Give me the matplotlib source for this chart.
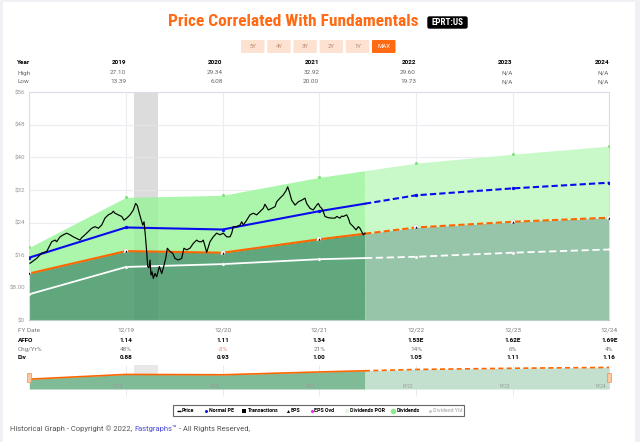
import numpy as np
import matplotlib.pyplot as plt
from matplotlib.patches import Rectangle, FancyBboxPatch
from matplotlib import font_manager

# ---- data ----
fy_x = [0, 1, 2, 3, 4, 5, 6]              # fiscal year ends 12/18 .. 12/24
fy_labels = ['12/19', '12/20', '12/21', '12/22', '12/23', '12/24']
years = ['2019', '2020', '2021', '2022', '2023', '2024']
high = ['27.10', '29.34', '32.92', '29.60', 'N/A', 'N/A']
low = ['13.39', '6.08', '20.00', '19.73', 'N/A', 'N/A']
affo = ['1.14', '1.11', '1.34', '1.53E', '1.62E', '1.69E']
chg = ['48%', '-3%', '21%', '14%', '6%', '4%']
div = ['0.88', '0.93', '1.00', '1.05', '1.11', '1.16']

normal_pe = [15.4, 22.8, 22.3, 26.8, 30.7, 32.4, 33.8]
eps_line = [11.5, 17.0, 16.6, 19.9, 22.8, 24.2, 25.2]
div_line = [6.4, 13.1, 13.8, 15.0, 15.6, 16.6, 17.4]
div_top = [17.9, 30.2, 30.7, 35.1, 38.6, 40.8, 42.8]

price_t = [0.007, 0.076, 0.128, 0.18, 0.214, 0.232, 0.266, 0.283, 0.318, 0.352,
           0.387, 0.421, 0.455, 0.49, 0.524, 0.542, 0.576, 0.61, 0.645, 0.68,
           0.714, 0.749, 0.783, 0.817, 0.852, 0.869, 0.886, 0.921, 0.956, 0.98,
           1.008, 1.042, 1.076, 1.1, 1.117, 1.138, 1.163, 1.173, 1.187, 1.2,
           1.214, 1.225, 1.238, 1.249, 1.259, 1.27, 1.283, 1.3, 1.318, 1.345,
           1.37, 1.386, 1.411, 1.428, 1.455, 1.483, 1.507, 1.541, 1.576, 1.6,
           1.628, 1.662, 1.697, 1.732, 1.755, 1.783, 1.8, 1.835, 1.869, 1.903,
           1.938, 1.973, 2.007, 2.042, 2.076, 2.094, 2.11, 2.145, 2.18, 2.197,
           2.214, 2.249, 2.283, 2.317, 2.352, 2.386, 2.421, 2.438, 2.473, 2.507,
           2.542, 2.559, 2.593, 2.627, 2.655, 2.673, 2.69, 2.714, 2.749, 2.783,
           2.818, 2.852, 2.869, 2.904, 2.938, 2.973, 2.99, 3.007, 3.025, 3.041,
           3.059, 3.093, 3.128, 3.162, 3.18, 3.214, 3.232, 3.248, 3.283, 3.3,
           3.318, 3.352, 3.38, 3.404, 3.421, 3.438, 3.455, 3.473]
price = [14.0, 15.2, 16.5, 16.9, 18.5, 19.3, 19.7, 19.3, 20.5, 21.0,
         21.4, 21.0, 20.5, 20.1, 19.7, 20.3, 21.0, 21.8, 22.6, 23.0,
         22.6, 23.4, 25.1, 25.9, 26.3, 26.8, 26.3, 25.9, 25.5, 24.6,
         25.1, 25.9, 27.1, 28.7, 28.2, 26.3, 24.2, 23.4, 24.2, 21.0,
         16.9, 13.2, 12.9, 14.8, 11.1, 11.9, 10.3, 11.5, 10.7, 13.2,
         11.5, 12.8, 15.2, 17.7, 16.9, 16.5, 15.2, 14.8, 15.2, 17.7,
         17.3, 17.7, 18.9, 19.7, 19.3, 19.3, 19.7, 16.7, 19.3, 20.5,
         21.4, 21.0, 21.4, 20.5, 20.5, 21.4, 23.0, 23.0, 23.4, 24.2,
         23.4, 24.6, 25.9, 26.3, 25.9, 26.7, 27.5, 28.5, 27.1, 27.5,
         27.9, 29.1, 30.0, 30.8, 31.8, 32.8, 31.6, 29.5, 28.3, 29.1,
         29.5, 30.0, 28.7, 27.5, 27.1, 28.3, 28.7, 27.9, 27.5, 26.7,
         25.5, 25.2, 25.1, 25.1, 25.5, 25.1, 25.6, 25.5, 25.9, 25.1,
         23.8, 23.0, 22.2, 23.0, 22.6, 21.8, 21.0, 21.4]
recession = (1.08, 1.33)

# ---- style ----
names = {f.name for f in font_manager.fontManager.ttflist}
plt.rcParams['font.family'] = 'Roboto'
title_font = 'Roboto Condensed' if 'Roboto Condensed' in names else (
    'Liberation Sans Narrow' if 'Liberation Sans Narrow' in names else 'Roboto')
ORANGE = '#ff6a13'
DARK, DARK_F = '#60a77d', '#97c5aa'
LIGHT, LIGHT_F = '#abf6ab', '#c9f9c9'

W, H = 640, 442
AX_L, AX_R, AX_T, AX_B = 29.3, 609.3, 92.3, 320.3
fig = plt.figure(figsize=(W / 100, H / 100), dpi=100, facecolor='#f0f1f5')


def box(l, t, r, b):
    return [l / W, 1 - b / H, (r - l) / W, (b - t) / H]


def col_x(i):
    return AX_L + (i + 1) * (AX_R - AX_L) / 6


def split(xs, ys, at):
    xs, ys = np.asarray(xs, float), np.asarray(ys, float)
    yv = np.interp(at, xs, ys)
    m = xs < at
    return (np.r_[xs[m], at], np.r_[ys[m], yv]), (np.r_[at, xs[~m]], np.r_[yv, ys[~m]])


# overlay in pixel coordinates for header, tables, legend
ov = fig.add_axes([0, 0, 1, 1], zorder=0)
ov.set_xlim(0, W)
ov.set_ylim(H, 0)
ov.axis('off')
ov.add_patch(Rectangle((3, 2), 632, 440, color='white', lw=0))

ov.text(293, 21, 'Price Correlated With Fundamentals', color=ORANGE, fontsize=12.5,
        fontweight='bold', family=title_font, ha='center', va='center')
ov.add_patch(FancyBboxPatch((428, 17), 39, 11, boxstyle='round,pad=0,rounding_size=1.5',
                            color='black'))
ov.text(447.5, 22.7, 'EPRT:US', color='white', fontsize=6.5, fontweight='bold',
        family=title_font, ha='center', va='center')

for i, lab in enumerate(['5Y', '4Y', '3Y', '2Y', '1Y', 'MAX']):
    x0 = 241 + i * 26.2
    sel = lab == 'MAX'
    ov.add_patch(FancyBboxPatch((x0, 40), 23.5, 13, boxstyle='round,pad=0,rounding_size=1',
                                color=ORANGE if sel else '#fde2d2', lw=0))
    ov.text(x0 + 11.75, 46.8, lab, fontsize=4.3, ha='center', va='center',
            color='white' if sel else '#b9866c')

# top table
ov.text(17, 62, 'Year', fontsize=4.6, fontweight='bold', va='center')
ov.text(17, 73, 'High', fontsize=4.6, color='#666', va='center')
ov.text(17, 81.5, 'Low', fontsize=4.6, color='#666', va='center')
for i in range(6):
    x = col_x(i)
    ov.text(x, 62, years[i], fontsize=4.6, fontweight='bold', ha='right', va='center')
    ov.text(x, 73, high[i], fontsize=4.6, color='#666', ha='right', va='center')
    ov.text(x, 81.5, low[i], fontsize=4.6, color='#666', ha='right', va='center')

# bottom table
ov.text(18, 330, 'FY Date', fontsize=4.6, color='#777', va='center')
ov.text(18, 341, 'AFFO', fontsize=4.6, fontweight='bold', va='center')
ov.text(18, 349.5, 'Chg/Yr%', fontsize=4.6, color='#777', va='center')
ov.text(18, 357.5, 'Div', fontsize=4.6, fontweight='bold', va='center')
for i in range(6):
    x = col_x(i)
    ov.text(x, 330, fy_labels[i], fontsize=4.6, color='#777', ha='center', va='center')
    ov.text(x, 341, affo[i], fontsize=4.6, fontweight='bold', ha='center', va='center')
    ov.text(x, 349.5, chg[i], fontsize=4.6, ha='center', va='center',
            color='#e58a7a' if chg[i].startswith('-') else '#777')
    ov.text(x, 357.5, div[i], fontsize=4.6, fontweight='bold', ha='center', va='center')

# legend
ov.add_patch(Rectangle((173, 405), 291, 11, fill=False, ec='#666', lw=0.8))
legend_items = [('Price', '_', 'black', 178.5, 182, 'black'),
                ('Normal PE', 'o', '#1515e0', 206, 209, 'black'),
                ('Transactions', 's', 'black', 244, 247.5, 'black'),
                ('EPS', '^', 'black', 288, 291, 'black'),
                ('EPS Ovd', 'o', '#ee22ee', 311.5, 314.5, 'black'),
                ('Dividends POR', 's', '#e4f7e4', 346.5, 349.5, 'black'),
                ('Dividends', 'o', '#8ee88e', 393, 397, 'black'),
                ('Dividend Yld', 'o', '#cccccc', 430, 433, '#bbbbbb')]
for lab, mk, c, mx, tx, tc in legend_items:
    ms = 4 if lab == 'Dividends' else 2.2
    ov.plot(mx, 410.5, marker=mk, ms=ms, color=c, mew=1 if mk == '_' else 0)
    ov.text(tx, 410.7, lab, fontsize=3.8, fontweight='bold', color=tc, va='center')

# footer
t1 = ov.text(10, 429, 'Historical Graph - Copyright \u00a9 2022, ', fontsize=5.5,
             color='#555', va='center')
t2 = ov.annotate('Fastgraphs\u2122', xy=(1, 0), xycoords=t1, va='bottom', fontsize=5.5,
                 color='#4b4bd6')
ov.annotate(' - All Rights Reserved,', xy=(1, 0), xycoords=t2, va='bottom', fontsize=5.5,
            color='#555')

# ---- main chart ----
ax = fig.add_axes(box(AX_L, AX_T, AX_R, AX_B), zorder=2)
proj = price_t[-1]
(ea, ev_a), (eb, ev_b) = split(fy_x, eps_line, proj)
(ta, tv_a), (tb, tv_b) = split(fy_x, div_top, proj)
(pa, pv_a), (pb, pv_b) = split(fy_x, normal_pe, proj)
(da, dv_a), (db, dv_b) = split(fy_x, div_line, proj)

ax.axvspan(*recession, color='#e4e4e4', lw=0, zorder=0.5)
ax.fill_between(ea, 0, ev_a, color=DARK, lw=0, zorder=1)
ax.fill_between(eb, 0, ev_b, color=DARK_F, lw=0, zorder=1)
ax.fill_between(ta, ev_a, tv_a, color=LIGHT, lw=0, zorder=1)
ax.fill_between(tb, ev_b, tv_b, color=LIGHT_F, lw=0, zorder=1)
ax.axvspan(*recession, color='black', alpha=0.03, lw=0, zorder=1.5)

ax.plot(da, dv_a, color='white', lw=1.3, zorder=3)
ax.plot(db, dv_b, color='white', lw=1.3, ls=(0, (4, 2)), zorder=3)
ax.plot(ea, ev_a, color='#ff6600', lw=1.5, zorder=3)
ax.plot(eb, ev_b, color='#ff6600', lw=1.5, ls=(0, (3, 1.5)), zorder=3)
ax.plot(pa, pv_a, color='#0a0aee', lw=1.5, zorder=3)
ax.plot(pb, pv_b, color='#0a0aee', lw=1.5, ls=(0, (3, 1.5)), zorder=3)

ax.scatter(fy_x, div_top, s=5, color='#7ee47e', lw=0, zorder=4)
ax.scatter(fy_x, div_line, s=5, color='white', ec='#cccccc', lw=0.3, zorder=4)
ax.scatter(fy_x, normal_pe, s=6, color='#0a0aee', lw=0, zorder=4)
ax.scatter(fy_x, eps_line, s=12, marker='s', color='white', ec='#bbbbbb', lw=0.3, zorder=4)
ax.scatter(fy_x, eps_line, s=3, marker='^', color='black', lw=0, zorder=4.5)

ax.plot(price_t, price, color='black', lw=0.85, zorder=5)

ax.set_xlim(0, 6)
ax.set_ylim(0, 56)
ax.set_xticks(fy_x)
ax.set_xticklabels([])
ax.set_yticks(range(0, 57, 8))
ax.set_yticklabels(['$0', '$8.00', '$16', '$24', '$32', '$40', '$48', '$56'])
ax.tick_params(length=0, labelsize=4.5, labelcolor='#999', pad=3)
ax.grid(color='#ececf2', lw=0.8)
ax.set_axisbelow(True)
for s in ax.spines.values():
    s.set_color('#dcdce6')
    s.set_linewidth(0.8)
ax.spines['bottom'].set_color('#b8cccc')

# ---- navigator ----
nav = fig.add_axes(box(AX_L, 365, AX_R, 389), zorder=2)
nav.axvspan(*recession, color='#e8e8e8', lw=0, zorder=0)
nav.vlines(fy_x[1:-1], -8, 28, color='#e6e6ee', lw=0.6, clip_on=False, zorder=0.5)
nav.fill_between(ea, 0, ev_a, color='#80bb98', lw=0, zorder=1)
nav.fill_between(eb, 0, ev_b, color='#c2e0cd', lw=0, zorder=1)
nav.plot(ea, ev_a, color='#ff6600', lw=1.2, zorder=2)
nav.plot(eb, ev_b, color='#ff6600', lw=1.2, ls=(0, (3, 2)), zorder=2)
for i in range(6):
    nav.text(fy_x[i + 1] - 0.03, 3.5, 'FY' + years[i][2:], fontsize=3.3, color='#999',
             ha='right', va='center', zorder=3)
for hx in (0, 6):
    nav.add_patch(Rectangle((hx - 0.02, 7.8), 0.04, 10.5, fc='#ffc7a0', ec='#ff8c40',
                            lw=0.5, clip_on=False, zorder=4))
nav.set_xlim(0, 6)
nav.set_ylim(0, 28)
nav.axis('off')

fig.savefig('out.png', dpi=100, facecolor=fig.get_facecolor())
